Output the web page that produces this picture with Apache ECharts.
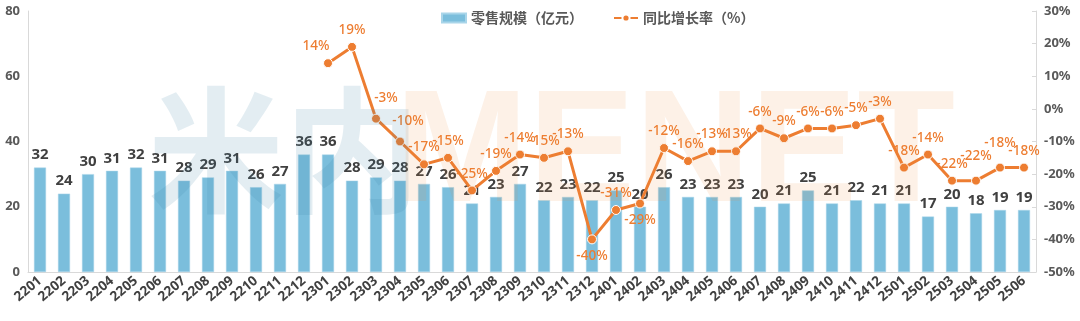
<!DOCTYPE html>
<html><head><meta charset="utf-8">
<script src="https://cdn.jsdelivr.net/npm/echarts@6/dist/echarts.min.js"></script>
<style>html,body{margin:0;padding:0;background:#fff}#c{width:1080px;height:321px}</style>
</head><body><div id="c"></div>
<script>
const categories = ['2201','2202','2203','2204','2205','2206','2207','2208','2209','2210','2211','2212',
 '2301','2302','2303','2304','2305','2306','2307','2308','2309','2310','2311','2312',
 '2401','2402','2403','2404','2405','2406','2407','2408','2409','2410','2411','2412',
 '2501','2502','2503','2504','2505','2506'];
const retailScale = [32,24,30,31,32,31,28,29,31,26,27,36,
 36,28,29,28,27,26,21,23,27,22,23,22,
 25,20,26,23,23,23,20,21,25,21,22,21,
 21,17,20,18,19,19];
const yoyGrowth = [null,null,null,null,null,null,null,null,null,null,null,null,
 14,19,-3,-10,-17,-15,-25,-19,-14,-15,-13,-40,
 -31,-29,-12,-16,-13,-13,-6,-9,-6,-6,-5,-3,
 -18,-14,-22,-22,-18,-18];
const leftTicks = {min:0, max:80, interval:20};
const rightTicks = {min:-50, max:30, interval:10};

const labelPos = {12:{offset:[-12,0]},14:{offset:[10,-4]},15:{offset:[8,-4]},23:{position:'bottom'},25:{position:'bottom'},39:{offset:[0,-8]},40:{offset:[0,-8]}};
const lineData = yoyGrowth.map((v,i)=>{
  const o = {value:v};
  if (labelPos[i]) o.label = labelPos[i];
  return o;
});
const font = "'Noto Sans','Noto Sans CJK SC',sans-serif";
const chart = echarts.init(document.getElementById('c'));
chart.setOption({
  animation:false,
  textStyle:{fontFamily:font},
  legend:{left:436, top:6, itemGap:30, itemWidth:24, itemHeight:9,
    textStyle:{fontSize:14, fontWeight:'bold', color:'#595959', fontFamily:"'Noto Sans CJK SC',sans-serif"},
    data:[{name:'零售规模（亿元）', icon:'rect'},{name:'同比增长率（%）'}]},
  grid:{left:28, right:44, top:11, bottom:49},
  xAxis:{type:'category', data:categories,
    axisLine:{lineStyle:{color:'#D9D9D9'}}, axisTick:{show:false},
    axisLabel:{rotate:40, interval:0, fontSize:13.5, fontWeight:'bold', color:'#404040', margin:7}},
  yAxis:[
    {type:'value', min:leftTicks.min, max:leftTicks.max, interval:leftTicks.interval,
     splitLine:{show:false}, axisLine:{show:true, lineStyle:{color:'#D9D9D9'}}, axisTick:{show:false},
     axisLabel:{fontSize:13, fontWeight:'bold', color:'#595959', margin:8}},
    {type:'value', min:rightTicks.min, max:rightTicks.max, interval:rightTicks.interval,
     splitLine:{show:false}, axisLine:{show:true, lineStyle:{color:'#D9D9D9'}},
     axisTick:{show:true, inside:true, length:4, lineStyle:{color:'#D9D9D9'}},
     axisLabel:{fontSize:13, fontWeight:'bold', color:'#595959', margin:8, formatter:'{value}%'}}
  ],
  series:[
    {name:'零售规模（亿元）', type:'bar', data:retailScale, barWidth:12,
     itemStyle:{color:'#7BBEDC', borderColor:'#A9D5E9', borderWidth:0.5},
     label:{show:true, position:'top', distance:5, fontSize:15, fontWeight:'bold', color:'#404040'}},
    {name:'同比增长率（%）', type:'line', yAxisIndex:1, data:lineData, connectNulls:false,
     symbol:'circle', symbolSize:9, z:5,
     lineStyle:{color:'#ED7D31', width:3},
     itemStyle:{color:'#ED7D31', borderColor:'#fff', borderWidth:1},
     label:{show:true, position:'top', distance:5, fontSize:13.5, fontWeight:500, color:'#ED7D31',
       formatter:p=>p.value==null?'':Math.round(p.value)+'%'}}
  ],
  graphic:[
    {type:'text', left:148, top:82, z:100, silent:true,
     style:{text:'米内', font:"bold 136px 'Noto Sans CJK SC'", fill:'rgba(60,125,160,0.14)'}},
    {type:'text', left:395, top:77, z:100, silent:true,
     style:{text:'MENET', font:"bold 160px 'Liberation Sans'", fill:'rgba(240,140,60,0.12)'}}
  ]
});
</script></body></html>
